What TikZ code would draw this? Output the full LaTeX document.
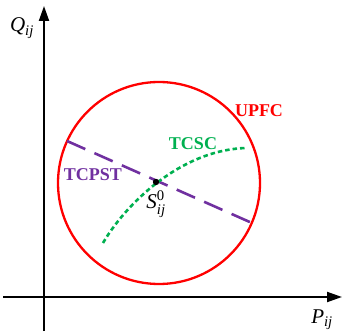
\documentclass[tikz,border=0pt]{standalone}
\usepackage{fontspec}
\usepackage{amsmath}
\setmainfont{Liberation Serif}
\usetikzlibrary{arrows.meta}
\definecolor{upfcred}{RGB}{255,0,0}
\definecolor{tcscgreen}{RGB}{0,176,80}
\definecolor{tcpstpurple}{RGB}{112,48,160}
\tikzset{
  axis/.style={line width=2pt,-{Triangle[length=15pt,width=10pt]}},
  lbl/.style={font=\fontsize{18}{20}\selectfont\bfseries,inner sep=0pt},
  mathlbl/.style={font=\fontsize{21}{24}\selectfont,inner sep=0pt},
}
\begin{document}
\begin{tikzpicture}[x=1pt,y=-1pt]
\useasboundingbox (0,0) rectangle (343,334);
% axes
\coordinate (yb) at (44,331);
\coordinate (yt) at (44,6);
\coordinate (xl) at (3,297);
\coordinate (xr) at (342,297);
\draw[axis] (yb) -- (yt);
\draw[axis] (xl) -- (xr);
\node[mathlbl] (Q) at (22,28) {$\textit{Q}_{\textit{ij}}$};
\node[mathlbl] (P) at (322,320) {$\textit{P}_{\textit{ij}}$};
% UPFC circle
\node[draw=upfcred,line width=2.3pt,circle,minimum size=202pt,inner sep=0pt] (circ) at (159,183) {};
\node[lbl,text=upfcred] (upfc) at (259,111) {UPFC};
% operating point
\coordinate (S0) at (156,182);
% TCPST line
\coordinate (pa) at (67,141);
\coordinate (pb) at (252,223);
\draw[tcpstpurple,line width=2.6pt,dash pattern=on 20pt off 10pt] (pa) -- (pb);
\node[lbl,text=tcpstpurple] (tcpst) at (93,175) {TCPST};
% TCSC curve
\coordinate (ca) at (103,243);
\coordinate (cb) at (246,148);
\draw[tcscgreen,line width=2.6pt,dash pattern=on 4.5pt off 3pt] (ca) .. controls (125,205) and (180,150) .. (cb);
\node[lbl,text=tcscgreen] (tcsc) at (193,144) {TCSC};
% point
\fill[black] (S0) circle[radius=3.2pt];
\node[mathlbl] (slbl) at (156,204) {$\textit{S}_{\textit{ij}}^{\text{0}}$};
\end{tikzpicture}
\end{document}
